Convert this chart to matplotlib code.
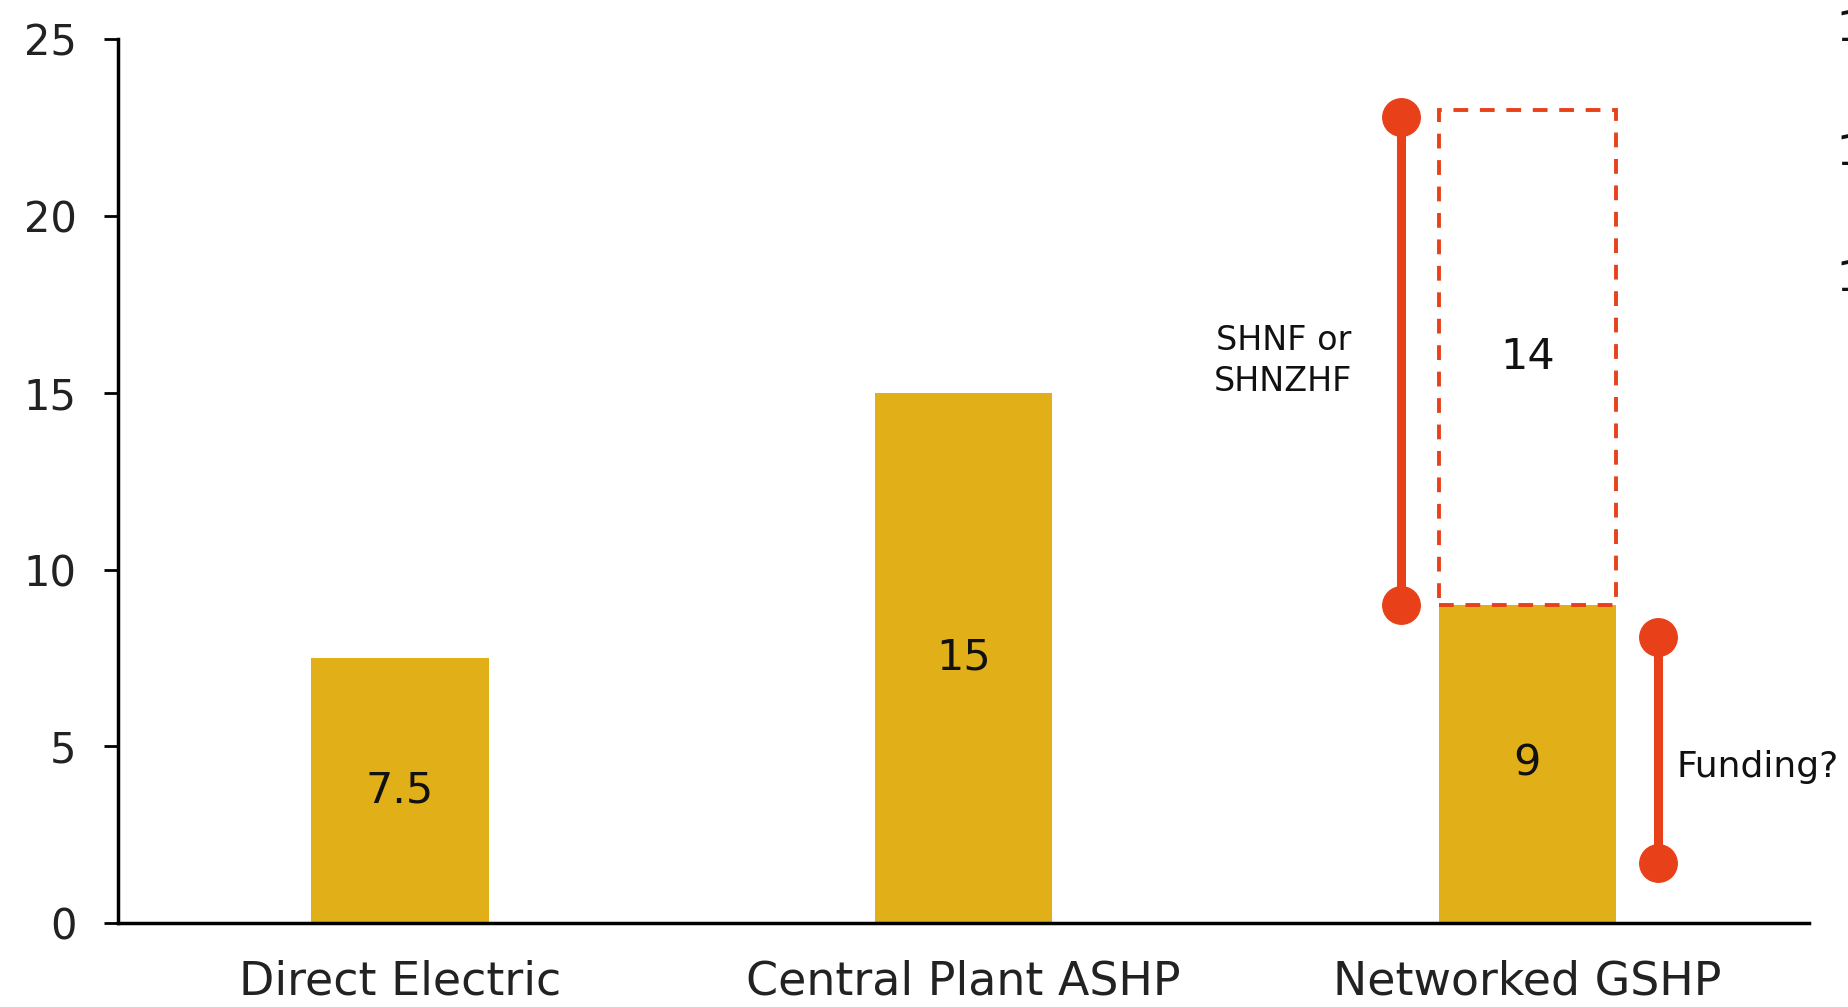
import matplotlib.pyplot as plt

categories = ['Direct Electric', 'Central Plant ASHP', 'Networked GSHP']
values = [7.5, 15, 9]
labels = ['7.5', '15', '9']

# stacked potential on top of the networked bar
extra_value = 14
extra_label = '14'

# red range markers: (x position, low, high)
shnf_range = (1.776, 9.0, 22.8)
shnf_text = 'SHNF or\nSHNZHF'
funding_range = (2.231, 1.7, 8.1)
funding_text = 'Funding?'

yticks = [0, 5, 10, 15, 20, 25]

gold = '#E1AF18'
red = '#E8411A'
font = 'DejaVu Sans'

fig = plt.figure(figsize=(18.48, 10.07), dpi=100)
ax = fig.add_axes([0.0639, 0.0834, 0.9151, 0.8776])

x = list(range(len(categories)))
ax.bar(x, values, width=0.315, color=gold, zorder=2)
for xi, v, lab in zip(x, values, labels):
    ax.text(xi, v / 2, lab, ha='center', va='center', fontsize=31,
            family=font, color='#111111')

# dashed box for the extra 14
ax.bar(x[2], extra_value, width=0.315, bottom=values[2], fill=False,
       edgecolor=red, linestyle=(0, (3.8, 3.0)), linewidth=2.8, zorder=3)
ax.text(x[2], values[2] + extra_value / 2, extra_label, ha='center',
        va='center', fontsize=31, family=font, color='#111111')

# range lines
for (rx, lo, hi) in [shnf_range, funding_range]:
    ax.plot([rx, rx], [lo, hi], color=red, linewidth=6.5,
            marker='o', markersize=27, solid_capstyle='butt', zorder=4,
            clip_on=False)

ax.text(1.567, 15.9, shnf_text, ha='center', va='center', fontsize=24,
        family=font, color='#111111', linespacing=1.3)
ax.text(2.265, 4.4, funding_text, ha='left', va='center', fontsize=26,
        family=font, color='#111111', clip_on=False)

ax.set_xlim(-0.5, 2.5)
ax.set_ylim(0, 25)
ax.set_yticks(yticks)
ax.set_xticks(x)
ax.set_xticklabels(categories, fontsize=33, family=font, color='#222222')
ax.tick_params(axis='x', length=0, pad=26)
ax.tick_params(axis='y', length=10, width=2, pad=20, labelsize=30,
               labelcolor='#222222')
for t in ax.get_yticklabels():
    t.set_family(font)

for side in ['top', 'right']:
    ax.spines[side].set_visible(False)
ax.spines['left'].set_linewidth(2.5)
ax.spines['bottom'].set_linewidth(2.5)

# clipped text at the right edge of the original slide
for fy in [0.971, 0.848, 0.723]:
    fig.text(0.9935, fy, '1', fontsize=30, family=font, color='#111111',
             ha='left', va='center')

fig.savefig('out.png', dpi=100)
